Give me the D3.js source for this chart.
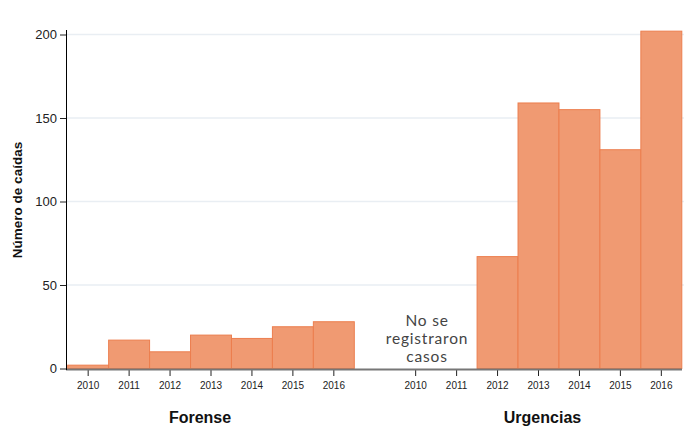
<!DOCTYPE html>
<html><head><meta charset="utf-8">
<script src="https://cdn.jsdelivr.net/npm/d3@7"></script>
<style>body{margin:0;background:#fff}</style>
</head><body>
<svg id="c" width="684" height="426"></svg>
<script>
const years = [2010, 2011, 2012, 2013, 2014, 2015, 2016];
const forenseValues = [2, 17, 10, 20, 18, 25, 28];
const urgenciasYears = [2012, 2013, 2014, 2015, 2016];
const urgenciasValues = [67, 159, 155, 131, 202];
const yTicks = [0, 50, 100, 150, 200];
const panelTitles = ["Forense", "Urgencias"];
const noteLines = ["No se", "registraron", "casos"];

const svg = d3.select("#c");
const y = d3.scaleLinear().domain([0, 200]).range([368.5, 34.5]);
const xF = d3.scaleBand().domain(years).range([67.7, 354.3]).padding(0);
const xU = d3.scaleBand().domain(years).range([395.2, 681.8]).padding(0);

// gridlines
svg.append("g").selectAll("line").data(yTicks.filter(d => d > 0)).join("line")
  .attr("x1", 67).attr("x2", 684).attr("y1", d => y(d)).attr("y2", d => y(d))
  .attr("stroke", "#e9eef3").attr("stroke-width", 1.5);

const fill = "#f09a72", stroke = "#ec7e4e";
function bars(data, x) {
  svg.append("g").selectAll("rect").data(data).join("rect")
    .attr("x", d => x(d[0])).attr("width", x.bandwidth())
    .attr("y", d => y(d[1])).attr("height", d => y(0) - y(d[1]))
    .attr("fill", fill).attr("stroke", stroke).attr("stroke-width", 1);
}
bars(years.map((yr, i) => [yr, forenseValues[i]]), xF);
bars(urgenciasYears.map((yr, i) => [yr, urgenciasValues[i]]), xU);

// x axes
function xAxis(x) {
  const g = svg.append("g").attr("transform", "translate(0,370)")
    .call(d3.axisBottom(x).tickSize(6).tickPadding(6));
  g.select(".domain").remove();
  g.selectAll(".tick line").attr("stroke", "#222");
  g.selectAll("text").attr("font-family", "Liberation Sans, Arial, sans-serif").attr("font-size", 10).attr("fill", "#222");
}
xAxis(xF); xAxis(xU);
svg.append("line").attr("x1", 66).attr("x2", 682).attr("y1", 369.5).attr("y2", 369.5)
  .attr("stroke", "#777").attr("stroke-width", 2);

// y axis
const ya = svg.append("g").attr("transform", "translate(66,0)")
  .call(d3.axisLeft(y).tickValues(yTicks).tickSize(6).tickPadding(3));
ya.select(".domain").attr("d", "M0.5,30V370").attr("stroke", "#000");
ya.selectAll(".tick line").attr("stroke", "#222");
ya.selectAll("text").attr("font-family", "Liberation Sans, Arial, sans-serif").attr("font-size", 13).attr("fill", "#222");

svg.append("text").attr("transform", "translate(22,200) rotate(-90)")
  .attr("text-anchor", "middle").attr("font-family", "Liberation Sans, Arial, sans-serif")
  .attr("font-weight", "bold").attr("font-size", 13.5).attr("fill", "#111").text("Número de caídas");

// panel titles
const titleX = [(xF.range()[0] + xF.range()[1]) / 2 - 11, (xU.range()[0] + xU.range()[1]) / 2 + 4];
svg.append("g").selectAll("text").data(panelTitles).join("text")
  .attr("x", (d, i) => titleX[i]).attr("y", 423).attr("text-anchor", "middle")
  .attr("font-family", "Liberation Sans, Arial, sans-serif").attr("font-weight", "bold")
  .attr("font-size", 16).attr("fill", "#111").text(d => d);

// note
svg.append("g").selectAll("text").data(noteLines).join("text")
  .attr("x", 427).attr("y", (d, i) => 326 + i * 18).attr("text-anchor", "middle")
  .attr("font-family", "Lato, 'Open Sans', sans-serif").attr("font-size", 15.5)
  .attr("letter-spacing", 0.8).attr("fill", "#444")
  .text(d => d);
</script>
</body></html>
